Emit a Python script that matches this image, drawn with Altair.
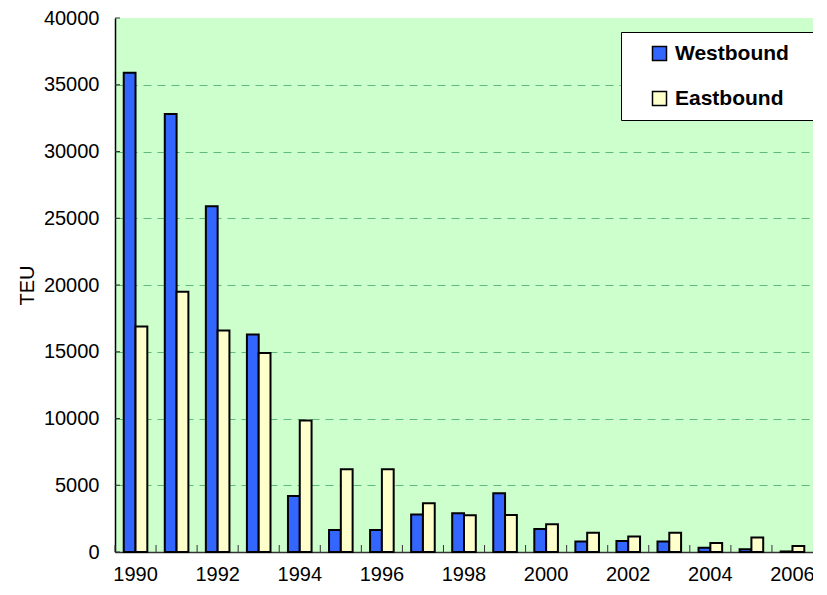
import altair as alt
import pandas as pd

years = list(range(1990, 2007))
westbound = [35900, 32800, 25900, 16300, 4200, 1650, 1650, 2800, 2900, 4400,
             1720, 780, 820, 780, 320, 200, 40]
eastbound = [16900, 19500, 16600, 14900, 9850, 6200, 6200, 3650, 2750, 2770,
             2070, 1450, 1170, 1450, 680, 1080, 450]
series = ["Westbound", "Eastbound"]
colors = ["#3366FF", "#FFFFCC"]
y_ticks = list(range(0, 40001, 5000))

W, H = 698, 534

df = pd.DataFrame({
    "year": years * 2,
    "series": [series[0]] * len(years) + [series[1]] * len(years),
    "teu": westbound + eastbound,
})

x_axis = alt.Axis(
    title=None, labelAngle=0, ticks=False, domainColor="#333333",
    domainWidth=1.5,
    labelExpr="datum.value % 2 == 0 ? datum.label : ''",
    labelFontSize=20, labelPadding=12, labelColor="#000000",
)
y_axis = alt.Axis(
    values=y_ticks, format="d", ticks=False, grid=True, gridDash=[8, 6],
    gridColor="#5DBB7F", gridWidth=1,
    gridOpacity={"condition": {"test": "datum.value >= 40000", "value": 0},
                 "value": 1},
    domainColor="#000000", domainWidth=1.5,
    labelFontSize=20, labelPadding=16, labelColor="#000000",
    title="TEU", titleFontSize=20, titleFontWeight="normal",
    titlePadding=6, titleColor="#000000",
)
x_scale = alt.Scale(paddingInner=0, paddingOuter=0)
y_scale = alt.Scale(domain=[0, 40000], nice=False)

bars = alt.Chart(df).mark_bar(stroke="black", strokeWidth=2).encode(
    x=alt.X("year:O", scale=x_scale, axis=x_axis),
    y=alt.Y("teu:Q", scale=y_scale, axis=y_axis),
    xOffset=alt.XOffset("series:N", sort=series,
                        scale=alt.Scale(paddingInner=0, paddingOuter=0.74)),
    color=alt.Color(
        "series:N", sort=series,
        scale=alt.Scale(domain=series, range=colors),
        legend=alt.Legend(
            title="i", titleColor="white", titleOrient="right",
            titleFontSize=10, titlePadding=15,
            orient="none", legendX=506, legendY=14,
            fillColor="white", strokeColor="black", padding=11,
            symbolType="square", symbolSize=196, symbolStrokeColor="black",
            symbolStrokeWidth=1.5, symbolOffset=17,
            labelFontSize=21, labelFontWeight="bold", labelOffset=5,
            labelColor="#000000", rowPadding=23,
        ),
    ),
)

yticks = alt.Chart(pd.DataFrame({"teu": y_ticks})).mark_rule(
    color="#333333", strokeWidth=1
).encode(
    y=alt.Y("teu:Q", scale=y_scale, axis=y_axis),
    x=alt.value(0), x2=alt.value(5),
)

xticks = alt.Chart(pd.DataFrame({"year": years})).mark_rule(
    color="#333333", strokeWidth=1
).encode(
    x=alt.X("year:O", bandPosition=0, scale=x_scale, axis=x_axis),
    y=alt.value(H - 7), y2=alt.value(H),
)

chart = alt.layer(bars, yticks, xticks).properties(
    width=W, height=H,
    autosize="none",
    padding={"left": 107, "top": 10, "right": 0, "bottom": 33},
    background="white",
).configure(
    font="Liberation Sans"
).configure_view(
    fill="#CCFFCC", stroke=None
)

chart.save("out.html", embed_options={"renderer": "svg", "actions": False})
